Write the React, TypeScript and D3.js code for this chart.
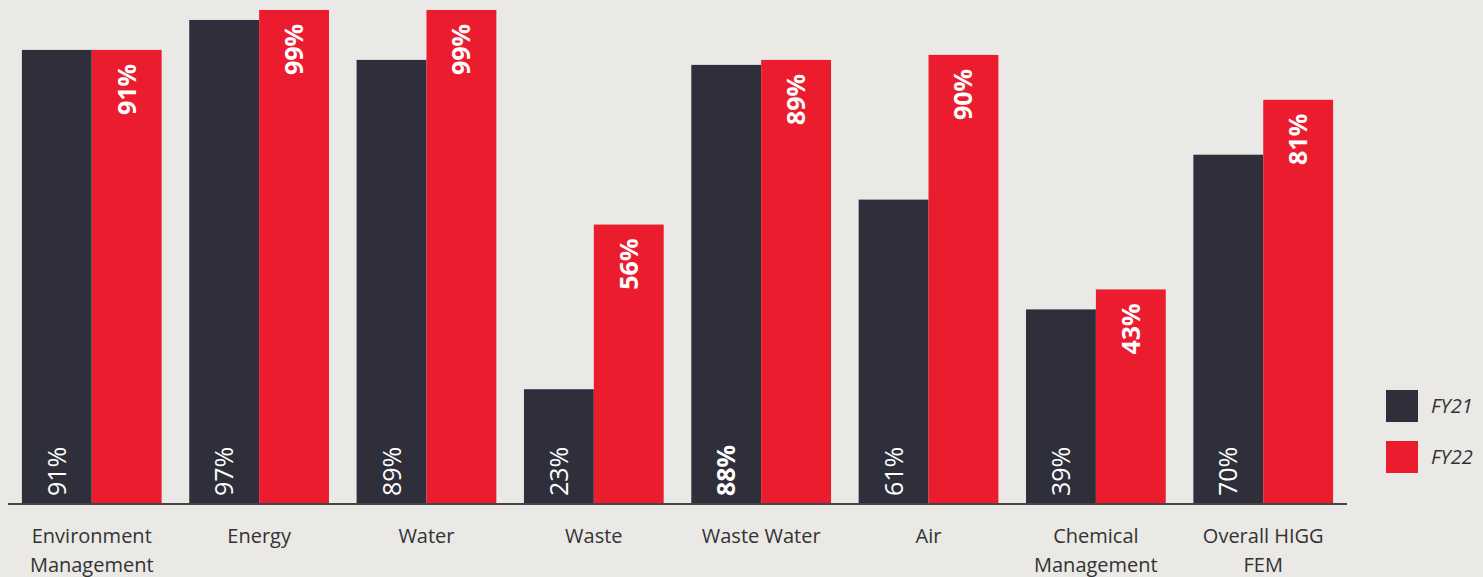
import React from "react";
import * as d3 from "d3";

const categories = [
  "Environment\nManagement",
  "Energy",
  "Water",
  "Waste",
  "Waste Water",
  "Air",
  "Chemical\nManagement",
  "Overall HIGG\nFEM",
];
const seriesNames = ["FY21", "FY22"];
const fy21 = [91, 97, 89, 23, 88, 61, 39, 70];
const fy22 = [91, 99, 99, 56, 89, 90, 43, 81];
const fy21Bold = [false, false, false, false, true, false, false, false];
const colors = ["#2f2f3b", "#ec1c2f"];

const W = 1483;
const H = 577;
const FONT = "'Open Sans', 'Noto Sans', sans-serif";

export default function App() {
  const x = d3
    .scaleBand<string>()
    .domain(categories)
    .range([8, 1347])
    .paddingInner(0.165)
    .paddingOuter(0.083);
  const xs = d3.scaleBand<string>().domain(seriesNames).range([0, x.bandwidth()]).padding(0);
  const y = d3.scaleLinear().domain([0, 100]).range([504, 5]);
  const values = [fy21, fy22];

  return (
    <svg
      width={W}
      height={H}
      style={{ position: "absolute", left: 0, top: 0, background: "#eae9e5" }}
      fontFamily={FONT}
    >
      <rect x={0} y={0} width={W} height={H} fill="#eae9e5" />
      {categories.map((c, i) => (
        <g key={c} transform={`translate(${x(c)},0)`}>
          {seriesNames.map((s, si) => {
            const v = values[si][i];
            const bx = xs(s)!;
            const cx = bx + xs.bandwidth() / 2;
            return (
              <g key={s}>
                <rect x={bx} y={y(v)} width={xs.bandwidth()} height={y(0) - y(v)} fill={colors[si]} />
                {si === 0 ? (
                  <text
                    transform={`translate(${cx},${y(0) - 8}) rotate(-90)`}
                    dy="0.36em"
                    fill="#ffffff"
                    fontSize={25}
                    fontWeight={fy21Bold[i] ? 700 : 400}
                    textAnchor="start"
                  >
                    {v}%
                  </text>
                ) : (
                  <text
                    transform={`translate(${cx},${y(v) + 14}) rotate(-90)`}
                    dy="0.36em"
                    fill="#ffffff"
                    fontSize={25}
                    fontWeight={700}
                    textAnchor="end"
                  >
                    {v}%
                  </text>
                )}
              </g>
            );
          })}
          <text x={x.bandwidth() / 2} y={543} fill="#333333" fontSize={20} textAnchor="middle">
            {c.split("\n").map((line, li) => (
              <tspan key={li} x={x.bandwidth() / 2} y={543 + li * 29}>
                {line}
              </tspan>
            ))}
          </text>
        </g>
      ))}
      <line x1={8} x2={1347} y1={504} y2={504} stroke="#444444" strokeWidth={2} />
      {seriesNames.map((s, si) => (
        <g key={s} transform={`translate(1386,${390 + si * 51})`}>
          <rect x={0} y={0} width={32} height={32} fill={colors[si]} />
          <text x={45} y={16} dy="0.35em" fill="#333333" fontSize={20} fontStyle="italic">
            {s}
          </text>
        </g>
      ))}
    </svg>
  );
}
